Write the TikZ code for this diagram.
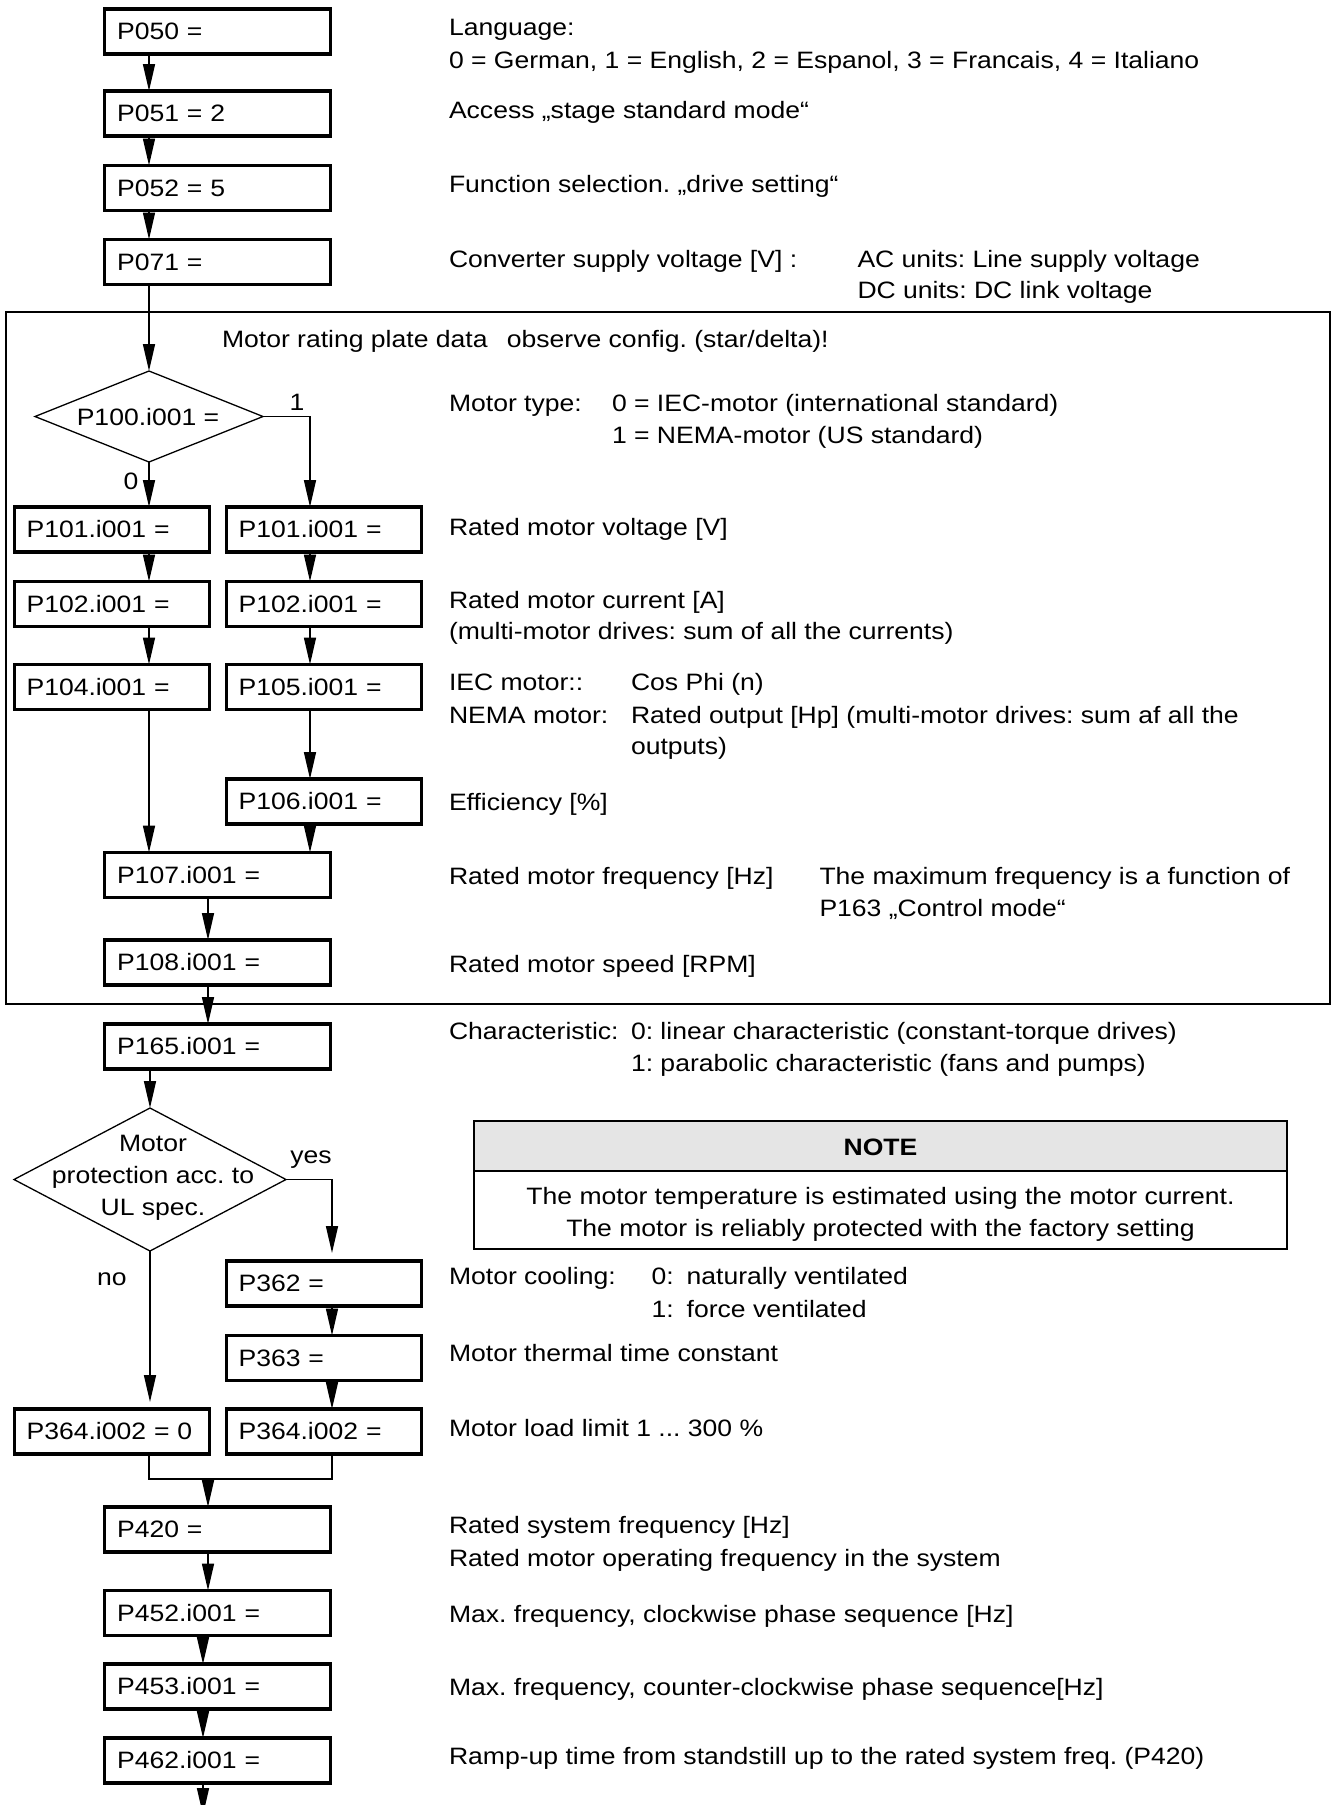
\documentclass[tikz,border=0pt]{standalone}
\usepackage{fontspec}
\setmainfont{Liberation Sans}[FakeStretch=1.12]
\usetikzlibrary{arrows.meta,shapes.geometric,calc}
\newcommand\myfs{\fontsize{23.7}{32}\selectfont\frenchspacing}
\begin{document}
\begin{tikzpicture}[x=1pt,y=-1pt,
  every node/.style={inner sep=0pt, outer sep=0pt, font=\myfs},
  pbox/.style={draw, line width=3.2pt, minimum height=45pt, inner xsep=12.5pt, inner ysep=0pt, text width=200.8pt, align=left},
  sbox/.style={draw, line width=3.2pt, minimum height=45pt, inner xsep=12pt, inner ysep=0pt, text width=170.8pt, align=left},
  dia/.style={diamond, draw, line width=1.3pt, inner sep=0pt},
  desc/.style={anchor=base west},
  lbl/.style={anchor=base},
  conn/.style={line width=1.6pt},
  arr/.style={line width=1.6pt, -{Triangle[length=27pt,width=12pt]}}
]
\useasboundingbox (0,0) rectangle (1342,1805);

% spine coordinates
\coordinate (xa) at (149,0);
\coordinate (xb) at (310,0);
\coordinate (xc) at (208,0);
\coordinate (xd) at (203,0);
\coordinate (xe) at (332,0);
\coordinate (jy) at (0,1479);
\coordinate (endp) at (203,1815);

% frame and note box
\draw[line width=2pt] (6,312) rectangle (1330,1004);
\fill[black!10] (474,1121) rectangle (1287,1171);
\draw[line width=2pt] (474,1121) rectangle (1287,1249);
\draw[line width=2pt] (474,1171) -- (1287,1171);

% boxes
\node[pbox] (p050) at (217.5,31.5) {P050 =};
\node[pbox] (p051) at (217.5,113.5) {P051 = 2};
\node[pbox] (p052) at (217.5,188) {P052 = 5};
\node[pbox] (p071) at (217.5,262) {P071 =};
\node[dia, minimum width=228pt, minimum height=91pt] (d1) at (149,416.5) {};
\node (d1t) at (148,417) {P100.i001 =};
\node[sbox] (p101l) at (112,529.5) {P101.i001 =};
\node[sbox] (p101r) at (324,529.5) {P101.i001 =};
\node[sbox] (p102l) at (112,604) {P102.i001 =};
\node[sbox] (p102r) at (324,604) {P102.i001 =};
\node[sbox] (p104l) at (112,687) {P104.i001 =};
\node[sbox] (p105r) at (324,687) {P105.i001 =};
\node[sbox] (p106r) at (324,801.5) {P106.i001 =};
\node[pbox] (p107) at (217.5,875) {P107.i001 =};
\node[pbox] (p108) at (217.5,962.5) {P108.i001 =};
\node[pbox] (p165) at (217.5,1046.5) {P165.i001 =};
\node[dia, minimum width=272pt, minimum height=143pt] (d2) at (150,1179.5) {};
\node[align=center] (d2t) at (153,1178) {Motor\\protection acc. to\\UL spec.};
\node[sbox] (p362) at (324,1283.5) {P362 =};
\node[sbox] (p363) at (324,1358) {P363 =};
\node[sbox] (p364l) at (112,1431.5) {P364.i002 = 0};
\node[sbox] (p364r) at (324,1431.5) {P364.i002 =};
\node[pbox] (p420) at (217.5,1529.5) {P420 =};
\node[pbox] (p452) at (217.5,1613) {P452.i001 =};
\node[pbox] (p453) at (217.5,1686.5) {P453.i001 =};
\node[pbox] (p462) at (217.5,1760.5) {P462.i001 =};

% branch labels
\node[lbl] (l1) at (297,410) {1};
\node[lbl] (l0) at (131,489) {0};
\node[lbl] (lyes) at (311,1163) {yes};
\node[lbl] (lno) at (112,1285) {no};

% connectors
\draw[arr] (p050.south -| xa) -- (p051.north -| xa);
\draw[arr] (p051.south -| xa) -- (p052.north -| xa);
\draw[arr] (p052.south -| xa) -- (p071.north -| xa);
\draw[arr] (p071.south -| xa) -- (d1.north);
\draw[arr] (d1.south) -- (p101l.north -| d1.south);
\draw[arr] (d1.east) -| (p101r.north -| xb);
\draw[arr] (p101l.south -| xa) -- (p102l.north -| xa);
\draw[arr] (p102l.south -| xa) -- (p104l.north -| xa);
\draw[arr] (p101r.south -| xb) -- (p102r.north -| xb);
\draw[arr] (p102r.south -| xb) -- (p105r.north -| xb);
\draw[arr] (p104l.south -| xa) -- (p107.north -| xa);
\draw[arr] (p105r.south -| xb) -- (p106r.north -| xb);
\draw[arr] (p106r.south -| xb) -- (p107.north -| xb);
\draw[arr] (p107.south -| xc) -- (p108.north -| xc);
\draw[arr] (p108.south -| xc) -- (p165.north -| xc);
\draw[arr] (p165.south -| d2.north) -- (d2.north);
\draw[arr, shorten >=8pt] (d2.east) -| (p362.north -| xe);
\draw[arr, shorten >=7pt] (d2.south) -- (p364l.north -| d2.south);
\draw[arr] (p362.south -| xe) -- (p363.north -| xe);
\draw[arr] (p363.south -| xe) -- (p364r.north -| xe);
\draw[line width=1.3pt] (p364l.south -| xa) -- (xa |- jy) -- (xe |- jy) -- (p364r.south -| xe);
\draw[arr] (xc |- jy) -- (p420.north -| xc);
\draw[arr] (p420.south -| xc) -- (p452.north -| xc);
\draw[arr] (p452.south -| xd) -- (p453.north -| xd);
\draw[arr] (p453.south -| xd) -- (p462.north -| xd);
\draw[arr] (p462.south -| xd) -- (endp);

% descriptions
\node[desc] (t01) at (449,35) {Language:};
\node[desc] (t02) at (449,68) {0 = German, 1 = English, 2 = Espanol, 3 = Francais, 4 = Italiano};
\node[desc] (t03) at (449,118) {Access „stage standard mode“};
\node[desc] (t04) at (449,192) {Function selection. „drive setting“};
\node[desc] (t05) at (449,267) {Converter supply voltage [V] :};
\node[desc] (t06) at (857.5,267) {AC units: Line supply voltage};
\node[desc] (t07) at (857.5,298) {DC units: DC link voltage};
\node[desc] (t08) at (222,347) {Motor rating plate data\hspace{12pt} observe config. (star/delta)!};
\node[desc] (t09) at (449,411) {Motor type:};
\node[desc] (t10) at (612,411) {0 = IEC-motor (international standard)};
\node[desc] (t11) at (612,443) {1 = NEMA-motor (US standard)};
\node[desc] (t12) at (449,535) {Rated motor voltage [V]};
\node[desc] (t13) at (449,608) {Rated motor current [A]};
\node[desc] (t14) at (449,639) {(multi-motor drives: sum of all the currents)};
\node[desc] (t15) at (449,690) {IEC motor::};
\node[desc] (t16) at (631,690) {Cos Phi (n)};
\node[desc] (t17) at (449,723) {NEMA motor:};
\node[desc] (t18) at (631,723) {Rated output [Hp] (multi-motor drives: sum af all the};
\node[desc] (t19) at (631,754) {outputs)};
\node[desc] (t20) at (449,810) {Efficiency [\%]};
\node[desc] (t21) at (449,884) {Rated motor frequency [Hz]};
\node[desc] (t22) at (819.5,884) {The maximum frequency is a function of};
\node[desc] (t23) at (819.5,916) {P163 „Control mode“};
\node[desc] (t24) at (449,972) {Rated motor speed [RPM]};
\node[desc] (t25) at (449,1039) {Characteristic:};
\node[desc] (t26) at (631,1039) {0: linear characteristic (constant-torque drives)};
\node[desc] (t27) at (631,1071) {1: parabolic characteristic (fans and pumps)};
\node[lbl] (n1) at (880.5,1155) {\bfseries NOTE};
\node[lbl] (n2) at (880.5,1204) {The motor temperature is estimated using the motor current.};
\node[lbl] (n3) at (880.5,1236) {The motor is reliably protected with the factory setting};
\node[desc] (t28) at (449,1284) {Motor cooling:};
\node[desc] (t29) at (651.5,1284) {0:\hspace{13pt}naturally ventilated};
\node[desc] (t30) at (651.5,1317) {1:\hspace{13pt}force ventilated};
\node[desc] (t31) at (449,1361) {Motor thermal time constant};
\node[desc] (t32) at (449,1436) {Motor load limit 1 ... 300 \%};
\node[desc] (t33) at (449,1533) {Rated system frequency [Hz]};
\node[desc] (t34) at (449,1566) {Rated motor operating frequency in the system};
\node[desc] (t35) at (449,1622) {Max. frequency, clockwise phase sequence [Hz]};
\node[desc] (t36) at (449,1695) {Max. frequency, counter-clockwise phase sequence[Hz]};
\node[desc] (t37) at (449,1764) {Ramp-up time from standstill up to the rated system freq. (P420)};
\end{tikzpicture}
\end{document}
